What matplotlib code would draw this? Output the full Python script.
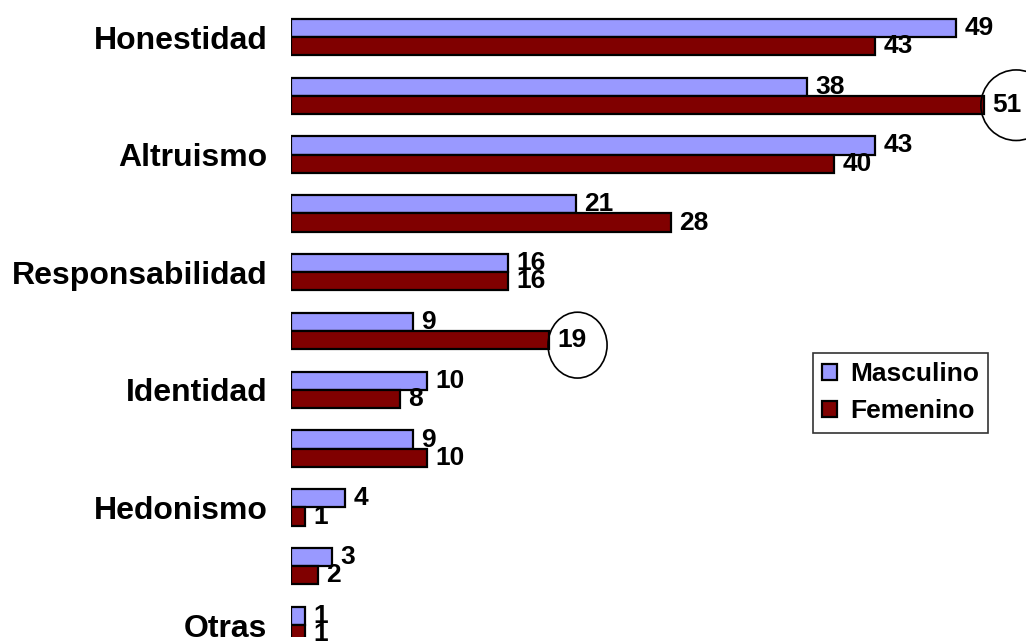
import matplotlib
matplotlib.use("Agg")
import matplotlib.pyplot as plt
from matplotlib.patches import Ellipse
import numpy as np

plt.rcParams['font.family'] = ['Liberation Sans', 'DejaVu Sans']
plt.rcParams['font.weight'] = 'bold'

categorias = ['Honestidad', '', 'Altruismo', '', 'Responsabilidad', '',
              'Identidad', '', 'Hedonismo', '', 'Otras']
masculino = [49, 38, 43, 21, 16, 9, 10, 9, 4, 3, 1]
femenino = [43, 51, 40, 28, 16, 19, 8, 10, 1, 2, 1]

fig = plt.figure(figsize=(10.26, 6.42), dpi=100)
ax = fig.add_axes([291 / 1026, 1 - 636.8 / 642, 735 / 1026, (636.8 - 7.6) / 642])

y = np.arange(len(categorias))
h = 0.31
b1 = ax.barh(y - h / 2, masculino, height=h, color='#9999ff', edgecolor='black',
             linewidth=1.6, label='Masculino')
b2 = ax.barh(y + h / 2, femenino, height=h, color='#800000', edgecolor='black',
             linewidth=1.6, label='Femenino')

for bars, vals, dy in [(b1, masculino, 0), (b2, femenino, 0)]:
    for r, v in zip(bars, vals):
        ax.annotate(str(v), (r.get_width(), r.get_y() + r.get_height() / 2),
                    xytext=(6, dy), textcoords='offset points',
                    ha='left', va='center', fontsize=19, fontweight='bold')

# hand-drawn circles around highlighted values
ax.add_patch(Ellipse((53.4, 1.16), 5.2, 1.2, fill=False, edgecolor='black',
                     linewidth=1.2, clip_on=False))
ax.add_patch(Ellipse((21.1, 5.24), 4.35, 1.12, angle=0, fill=False,
                     edgecolor='black', linewidth=1.2, clip_on=False))

ax.set_xlim(0, 735 / 13.58)
ax.set_ylim(10.2, -0.5)
ax.set_yticks(y)
ax.set_yticklabels(categorias, fontsize=23, fontweight='bold')
ax.tick_params(axis='y', length=0, pad=17)
ax.set_xticks([])
for s in ax.spines.values():
    s.set_visible(False)

leg = ax.legend(loc='upper left', bbox_to_anchor=(813 / 1026, 1 - 353 / 642),
                bbox_transform=fig.transFigure, frameon=True, fancybox=False,
                edgecolor='black', handlelength=0.55, handleheight=0.55,
                handletextpad=0.5, borderpad=0.35, borderaxespad=0,
                labelspacing=0.5, prop={'weight': 'bold', 'size': 19})
leg.get_frame().set_linewidth(1.2)

fig.savefig('out.png', dpi=100)
